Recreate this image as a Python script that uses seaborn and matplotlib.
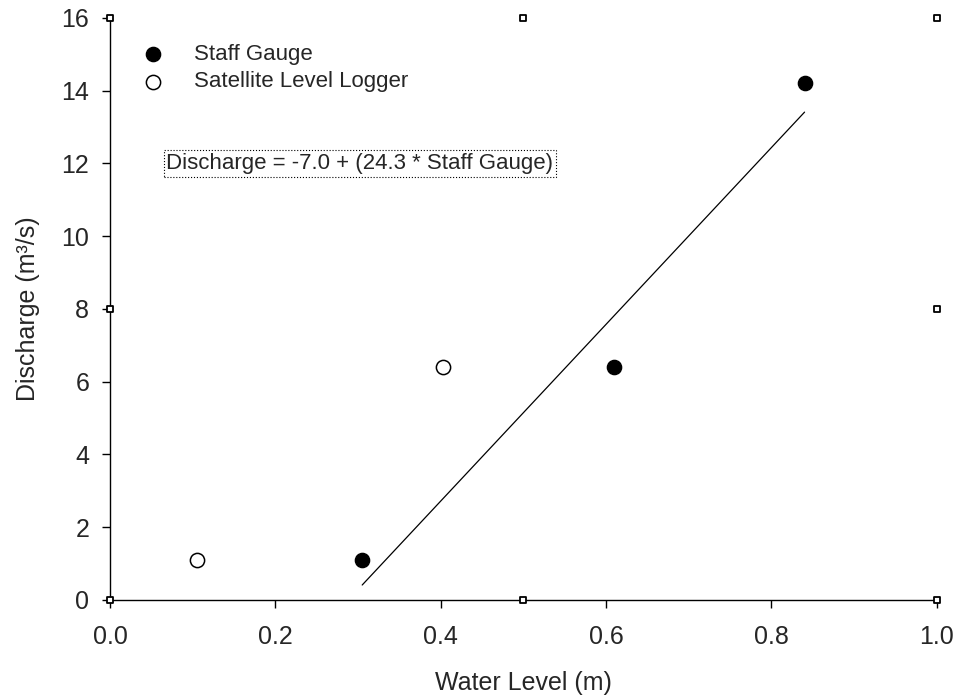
import numpy as np
import pandas as pd
import matplotlib
matplotlib.use("Agg")
import matplotlib.pyplot as plt
import seaborn as sns

# values
staff_level = [0.305, 0.61, 0.84]
staff_discharge = [1.1, 6.4, 14.2]
logger_level = [0.105, 0.403]
logger_discharge = [1.1, 6.4]

intercept = -7.0
slope = 24.3

x_ticks = [0.0, 0.2, 0.4, 0.6, 0.8, 1.0]
y_ticks = [0, 2, 4, 6, 8, 10, 12, 14, 16]

# the small square handles round the plot area
handle_x = [0.0, 0.5, 1.0, 0.0, 1.0, 0.0, 0.5, 1.0]
handle_y = [16, 16, 16, 8, 8, 0, 0, 0]

sns.set_style("ticks")
plt.rcParams['font.family'] = ['Liberation Sans', 'DejaVu Sans']

fig = plt.figure(figsize=(9.55, 7), dpi=100)
ax = fig.add_axes([0.1152, 0.1429, 0.8658, 0.8314])

staff = pd.DataFrame({'level': staff_level, 'discharge': staff_discharge})
logger = pd.DataFrame({'level': logger_level, 'discharge': logger_discharge})

# regression line over the staff gauge range
fit_x = np.array([min(staff_level), max(staff_level)])
fit = pd.DataFrame({'level': fit_x, 'discharge': intercept + slope * fit_x})
sns.lineplot(data=fit, x='level', y='discharge', color='black', linewidth=0.9, ax=ax)

sns.scatterplot(data=staff, x='level', y='discharge', s=105, color='black',
                edgecolor='black', linewidth=1, label='Staff Gauge', ax=ax, zorder=3)
sns.scatterplot(data=logger, x='level', y='discharge', s=105, color='white',
                edgecolor='black', linewidth=1.1, label='Satellite Level Logger', ax=ax, zorder=3)

ax.scatter(handle_x, handle_y, marker='s', s=16, facecolor='white',
           edgecolor='black', linewidth=1.3, clip_on=False, zorder=5)

ax.set_xlim(0, 1)
ax.set_ylim(0, 16)
ax.set_xticks(x_ticks)
ax.set_xticklabels([f"{t:.1f}" for t in x_ticks])
ax.set_yticks(y_ticks)
ax.tick_params(axis='both', labelsize=18, length=6, width=1, direction='out', color='black')
ax.tick_params(axis='x', pad=12)
ax.tick_params(axis='y', pad=9)
sns.despine(ax=ax)
for s in ['left', 'bottom']:
    ax.spines[s].set_linewidth(1.0)
    ax.spines[s].set_color('black')

ax.set_xlabel('Water Level (m)', fontsize=18, labelpad=16)
ax.set_ylabel('Discharge (m³/s)', fontsize=18, labelpad=15)

ax.text(0.068, 12.0, 'Discharge = -7.0 + (24.3 * Staff Gauge)', fontsize=16,
        va='center', ha='left',
        bbox=dict(boxstyle='square,pad=0.12', facecolor='white', edgecolor='black',
                  linestyle=':', linewidth=0.8))

ax.legend(loc='upper left', bbox_to_anchor=(0.014, 0.971), frameon=False,
          fontsize=16, handletextpad=0.85, labelspacing=0.3, borderaxespad=0)

fig.savefig('out.png', dpi=100)
